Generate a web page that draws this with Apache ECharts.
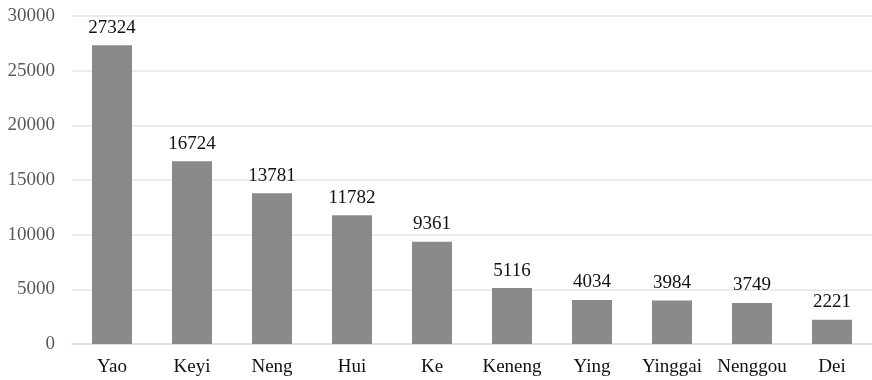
<!DOCTYPE html>
<html>
<head>
<meta charset="utf-8">
<script src="https://cdn.jsdelivr.net/npm/echarts@6/dist/echarts.min.js"></script>
<style>
  html, body { margin: 0; padding: 0; background: #fff; }
  #main { width: 872px; height: 380px; }
</style>
</head>
<body>
<div id="main"></div>
<script>
var categories = ['Yao', 'Keyi', 'Neng', 'Hui', 'Ke', 'Keneng', 'Ying', 'Yinggai', 'Nenggou', 'Dei'];
var counts = [27324, 16724, 13781, 11782, 9361, 5116, 4034, 3984, 3749, 2221];
var yTicks = [0, 5000, 10000, 15000, 20000, 25000, 30000];

var font = '"Liberation Serif", "Times New Roman", serif';
var myChart = echarts.init(document.getElementById('main'));
myChart.setOption({
    animation: false,
    grid: {
        left: 72,
        right: -4,
        top: 16,
        bottom: 36,
        containLabel: false
    },
    xAxis: {
        type: 'category',
        data: categories,
        axisLine: { lineStyle: { color: '#d9d9d9', width: 1.5 } },
        axisTick: { show: false },
        axisLabel: {
            color: '#111',
            fontFamily: font,
            fontSize: 19,
            margin: 14,
            interval: 0
        }
    },
    yAxis: {
        type: 'value',
        min: yTicks[0],
        max: yTicks[yTicks.length - 1],
        interval: 5000,
        axisLine: { show: false },
        axisTick: { show: false },
        splitLine: { lineStyle: { color: '#e6e6e6', width: 1.5 } },
        axisLabel: {
            color: '#595959',
            fontFamily: font,
            fontSize: 19,
            margin: 17,
            formatter: function (v) { return String(v); }
        }
    },
    series: [{
        type: 'bar',
        data: counts,
        barWidth: 40,
        itemStyle: { color: '#8a8a8a' },
        label: {
            show: true,
            position: 'top',
            distance: 8,
            color: '#111',
            fontFamily: font,
            fontSize: 19
        }
    }]
});
</script>
</body>
</html>
